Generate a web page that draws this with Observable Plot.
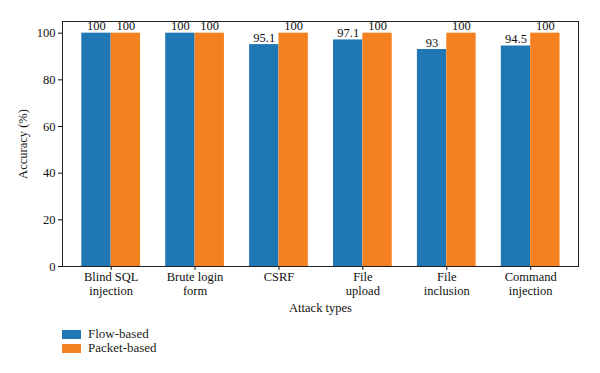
<!DOCTYPE html>
<html>
<head>
<meta charset="utf-8">
<script src="https://cdn.jsdelivr.net/npm/d3@7"></script>
<script src="https://cdn.jsdelivr.net/npm/@observablehq/plot@0.6"></script>
<style>
  body { margin: 0; background: #fff; font-family: "Liberation Serif", "DejaVu Serif", serif; }
  #chart svg { display: block; }
  .legend { position: relative; height: 53px; font-family: "Liberation Serif", serif; font-size: 13px; color: #222; }
  .legend .row { position: absolute; left: 62px; display: flex; align-items: center; }
  .legend .sw { width: 19px; height: 9px; margin-right: 7px; }
</style>
</head>
<body>
<div id="chart"></div>
<script>
const categories = ["Blind SQL\ninjection", "Brute login\nform", "CSRF", "File\nupload", "File\ninclusion", "Command\ninjection"];
const seriesNames = ["Flow-based", "Packet-based"];
const flowBased = [100, 100, 95.1, 97.1, 93, 94.5];
const packetBased = [100, 100, 100, 100, 100, 100];
const colors = ["#1f77b4", "#f58020"];
const yTicks = [0, 20, 40, 60, 80, 100];

const barW = 0.35;
const rows = [];
categories.forEach((c, i) => {
  rows.push({i, series: seriesNames[0], value: flowBased[i], x1: i - barW, x2: i});
  rows.push({i, series: seriesNames[1], value: packetBased[i], x1: i, x2: i + barW});
});

const chart = Plot.plot({
  width: 600,
  height: 320,
  marginLeft: 62,
  marginRight: 22,
  marginTop: 21,
  marginBottom: 54,
  style: {fontFamily: "'Liberation Serif', 'DejaVu Serif', serif", fontSize: "12.5px", color: "#111"},
  x: {domain: [-0.58, 5.57]},
  y: {domain: [0, 105]},
  color: {domain: seriesNames, range: colors},
  marks: [
    Plot.rectY(rows, {x1: "x1", x2: "x2", y1: 0, y2: "value", fill: "series"}),
    Plot.text(rows, {x: d => (d.x1 + d.x2) / 2, y: "value", text: d => String(d.value), dy: -7, fontSize: 12.5, fill: "#111"}),
    Plot.axisY({ticks: yTicks, tickSize: 4, tickPadding: 3, label: "Accuracy (%)", labelAnchor: "center", labelArrow: "none", labelOffset: 44, fontSize: 12.5}),
    Plot.axisX({ticks: d3.range(categories.length), tickFormat: i => categories[i], tickSize: 4, tickPadding: 1, label: "Attack types", labelAnchor: "center", labelArrow: "none", labelOffset: 45, fontSize: 12.5, lineHeight: 1.12}),
    Plot.frame({stroke: "#222", strokeWidth: 1})
  ]
});
document.getElementById("chart").appendChild(chart);

const legend = document.createElement("div");
legend.className = "legend";
seriesNames.forEach((s, k) => {
  const row = document.createElement("div");
  row.className = "row";
  row.style.top = (6 + k * 14) + "px";
  const sw = document.createElement("div");
  sw.className = "sw";
  sw.style.background = colors[k];
  const t = document.createElement("span");
  t.textContent = s;
  row.appendChild(sw); row.appendChild(t);
  legend.appendChild(row);
});
document.body.appendChild(legend);
</script>
</body>
</html>
